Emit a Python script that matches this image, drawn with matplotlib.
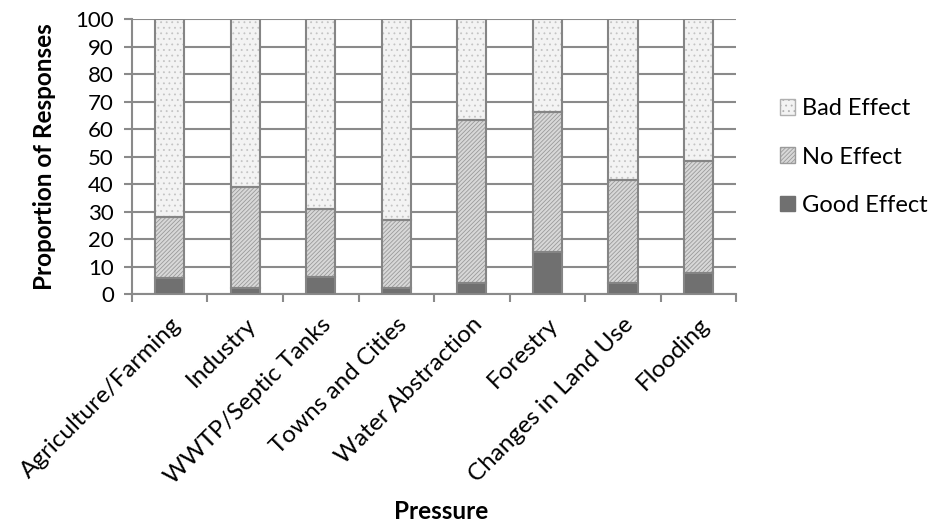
import numpy as np
import matplotlib.pyplot as plt
from matplotlib.patches import Patch

plt.rcParams['font.family'] = ['Lato', 'DejaVu Sans']
plt.rcParams['hatch.linewidth'] = 0.6

pressures = ["Agriculture/Farming", "Industry", "WWTP/Septic Tanks", "Towns and Cities",
             "Water Abstraction", "Forestry", "Changes in Land Use", "Flooding"]
good_effect = [6.0, 2.4, 6.3, 2.4, 3.9, 15.4, 3.9, 7.7]
# top of the "No Effect" segment (good + no effect)
good_plus_none = [28.0, 38.8, 31.0, 27.0, 63.3, 66.3, 41.5, 48.5]

good = np.array(good_effect)
none = np.array(good_plus_none) - good
bad = 100 - np.array(good_plus_none)

EDGE = '#858585'
GRID = '#8a8a8a'

fig = plt.figure(figsize=(9.38, 5.29), dpi=100)
ax = fig.add_axes([0.1407, 0.444, 0.644, 0.520])

x = np.arange(len(pressures))
w = 0.39

# fills first (hatch colour comes from edgecolor), outlines drawn on top
ax.bar(x, good, w, color='#707070', linewidth=0, zorder=3)
ax.bar(x, none, w, bottom=good, color='#d8d8d8', edgecolor='#9a9a9a',
       hatch='////////', linewidth=0, zorder=3)
ax.bar(x, bad, w, bottom=good + none, color='#f3f3f3', edgecolor='#c4c4c4',
       hatch='...', linewidth=0, zorder=3)
for vals, base in [(good, 0), (none, good), (bad, good + none)]:
    ax.bar(x, vals, w, bottom=base, fill=False, edgecolor=EDGE, linewidth=1.5, zorder=4)

ax.set_xlim(-0.5, len(pressures) - 0.5)
ax.set_ylim(0, 100)
ax.set_yticks(range(0, 101, 10))
ax.yaxis.grid(True, color=GRID, linewidth=1.5, zorder=0)
ax.set_axisbelow(True)

# category boundaries carry the tick marks
ax.set_xticks(np.arange(-0.5, len(pressures) + 0.5, 1))
ax.set_xticklabels([])
ax.set_xticks(x, minor=True)
ax.set_xticklabels(pressures, minor=True, rotation=45, ha='right',
                   rotation_mode='anchor', fontsize=17.5)
ax.tick_params(axis='x', which='minor', length=0, pad=14)
ax.tick_params(axis='x', which='major', length=6, width=1.5, color=GRID)
ax.tick_params(axis='y', length=6, width=1.5, color=GRID, labelsize=16, pad=7)

for s in ['top', 'right']:
    ax.spines[s].set_visible(False)
for s in ['left', 'bottom']:
    ax.spines[s].set_color(GRID)
    ax.spines[s].set_linewidth(1.5)

ax.set_ylabel("Proportion of Responses", fontsize=17.5, fontweight='bold')
ax.yaxis.set_label_coords(-0.126, 0.5)
fig.text(0.470, 0.034, "Pressure", fontsize=17.5, fontweight='bold',
         ha='center', va='center')

handles = [
    Patch(facecolor='#f3f3f3', edgecolor='#b0b0b0', hatch='...', label='Bad Effect'),
    Patch(facecolor='#d8d8d8', edgecolor='#9a9a9a', hatch='////////', label='No Effect'),
    Patch(facecolor='#707070', edgecolor='#707070', label='Good Effect'),
]
leg = fig.legend(handles=handles, loc='center left', bbox_to_anchor=(0.8316, 0.703),
                 frameon=False, fontsize=17, handlelength=0.65, handleheight=0.65,
                 handletextpad=0.3, labelspacing=1.15, borderpad=0, borderaxespad=0)

fig.savefig('out.png', dpi=100)
